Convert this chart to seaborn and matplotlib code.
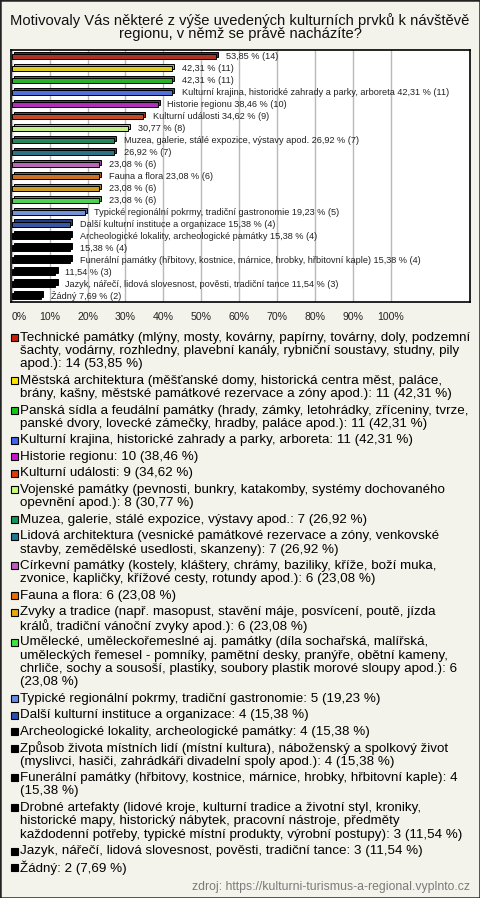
import numpy as np
import pandas as pd
import matplotlib.pyplot as plt
import seaborn as sns
from matplotlib.patches import Rectangle
from matplotlib.colors import to_rgb

# --- Data ---
names = [
    'Technické památky', 'Městská architektura', 'Panská sídla a feudální památky',
    'Kulturní krajina, historické zahrady a parky, arboreta', 'Historie regionu',
    'Kulturní události', 'Vojenské památky', 'Muzea, galerie, stálé expozice, výstavy apod.',
    'Lidová architektura', 'Církevní památky', 'Fauna a flora', 'Zvyky a tradice',
    'Umělecké, uměleckořemeslné aj. památky', 'Typické regionální pokrmy, tradiční gastronomie',
    'Další kulturní instituce a organizace', 'Archeologické lokality, archeologické památky',
    'Způsob života místních lidí',
    'Funerální památky (hřbitovy, kostnice, márnice, hrobky, hřbitovní kaple)',
    'Drobné artefakty', 'Jazyk, nářečí, lidová slovesnost, pověsti, tradiční tance', 'Žádný',
]
counts = [14, 11, 11, 11, 10, 9, 8, 7, 7, 6, 6, 6, 6, 5, 4, 4, 4, 4, 3, 3, 2]
percent = [53.85, 42.31, 42.31, 42.31, 38.46, 34.62, 30.77, 26.92, 26.92, 23.08, 23.08,
           23.08, 23.08, 19.23, 15.38, 15.38, 15.38, 15.38, 11.54, 11.54, 7.69]
# which bars show the category name next to the value
show_name = [False, False, False, True, True, True, False, True, False, False, True,
             False, False, True, True, True, False, True, False, True, True]
colors = ['#c81e0a', '#ffe600', '#14c814', '#3c64f0', '#c814d2', '#dc3c0a', '#c8ff78',
          '#14965a', '#1e7896', '#c35ac3', '#e66e0a', '#e6aa0a', '#3ce63c', '#648ce6',
          '#2850b4', '#000000', '#000000', '#000000', '#000000', '#000000', '#000000']
legend_labels = [
    'Technické památky (mlýny, mosty, kovárny, papírny, továrny, doly, podzemní\n'
    'šachty, vodárny, rozhledny, plavební kanály, rybniční soustavy, studny, pily\n'
    'apod.): 14 (53,85 %)',
    'Městská architektura (měšťanské domy, historická centra měst, paláce,\n'
    'brány, kašny, městské památkové rezervace a zóny apod.): 11 (42,31 %)',
    'Panská sídla a feudální památky (hrady, zámky, letohrádky, zříceniny, tvrze,\n'
    'panské dvory, lovecké zámečky, hradby, paláce apod.): 11 (42,31 %)',
    'Kulturní krajina, historické zahrady a parky, arboreta: 11 (42,31 %)',
    'Historie regionu: 10 (38,46 %)',
    'Kulturní události: 9 (34,62 %)',
    'Vojenské památky (pevnosti, bunkry, katakomby, systémy dochovaného\n'
    'opevnění apod.): 8 (30,77 %)',
    'Muzea, galerie, stálé expozice, výstavy apod.: 7 (26,92 %)',
    'Lidová architektura (vesnické památkové rezervace a zóny, venkovské\n'
    'stavby, zemědělské usedlosti, skanzeny): 7 (26,92 %)',
    'Církevní památky (kostely, kláštery, chrámy, baziliky, kříže, boží muka,\n'
    'zvonice, kapličky, křížové cesty, rotundy apod.): 6 (23,08 %)',
    'Fauna a flora: 6 (23,08 %)',
    'Zvyky a tradice (např. masopust, stavění máje, posvícení, poutě, jízda\n'
    'králů, tradiční vánoční zvyky apod.): 6 (23,08 %)',
    'Umělecké, uměleckořemeslné aj. památky (díla sochařská, malířská,\n'
    'uměleckých řemesel - pomníky, pamětní desky, pranýře, obětní kameny,\n'
    'chrliče, sochy a sousoší, plastiky, soubory plastik morové sloupy apod.): 6\n'
    '(23,08 %)',
    'Typické regionální pokrmy, tradiční gastronomie: 5 (19,23 %)',
    'Další kulturní instituce a organizace: 4 (15,38 %)',
    'Archeologické lokality, archeologické památky: 4 (15,38 %)',
    'Způsob života místních lidí (místní kultura), náboženský a spolkový život\n'
    '(myslivci, hasiči, zahrádkáři divadelní spoly apod.): 4 (15,38 %)',
    'Funerální památky (hřbitovy, kostnice, márnice, hrobky, hřbitovní kaple): 4\n'
    '(15,38 %)',
    'Drobné artefakty (lidové kroje, kulturní tradice a životní styl, kroniky,\n'
    'historické mapy, historický nábytek, pracovní nástroje, předměty\n'
    'každodenní potřeby, typické místní produkty, výrobní postupy): 3 (11,54 %)',
    'Jazyk, nářečí, lidová slovesnost, pověsti, tradiční tance: 3 (11,54 %)',
    'Žádný: 2 (7,69 %)',
]
title = 'Motivovaly Vás některé z výše uvedených kulturních prvků k návštěvě\nregionu, v němž se právě nacházíte?'
source = 'zdroj: https://kulturni-turismus-a-regional.vyplnto.cz'

sns.set_theme(style='white')
plt.rcParams['font.family'] = ['Liberation Sans', 'DejaVu Sans']

df = pd.DataFrame({'name': names, 'percent': percent, 'count': counts})
n = len(df)

W, H = 480, 898
bg = '#f4f3eb'
fig = plt.figure(figsize=(W / 100, H / 100), dpi=100, facecolor=bg)
ax = fig.add_axes([10.5 / W, 1 - 302 / H, 459.5 / W, 252 / H])
ax.set_facecolor('white')

# darker "top face" behind each bar for the 3D look
dark = [tuple(c * 0.75 for c in to_rgb(col)) for col in colors]
ax.barh(np.arange(n) - 0.17, df['percent'], left=0.55, height=0.45,
        color=dark, edgecolor='black', linewidth=0.7, zorder=2)
sns.barplot(data=df, x='percent', y='name', hue='name', palette=colors, orient='h',
            width=0.45, edgecolor='black', linewidth=0.7, legend=False, ax=ax, zorder=3)

for i, row in df.iterrows():
    pct = f"{row['percent']:.2f}".replace('.', ',')
    txt = f"{pct} % ({row['count']})"
    if show_name[i]:
        txt = f"{row['name']} {txt}"
    ax.text(row['percent'] + 2.6, i, txt, va='center', ha='left',
            fontsize=6.6, color='#222222', zorder=4)

ax.set_xlim(-0.3, 120.8)
ax.set_ylim(n - 0.5, -0.56)
ax.set_xticks(range(0, 101, 10))
ax.set_xticklabels([f'{t}%' for t in range(0, 101, 10)])
ax.get_xticklabels()[0].set_horizontalalignment('left')
ax.tick_params(axis='x', length=0, pad=7, labelsize=7.6, labelcolor='#222222')
ax.set_yticks([])
ax.set_xlabel('')
ax.set_ylabel('')
ax.set_axisbelow(True)
ax.xaxis.grid(True, color='#b9b9b9', linewidth=1)
for s in ax.spines.values():
    s.set_visible(True)
    s.set_color('black')
    s.set_linewidth(1.2)

fig.text(0.5, 1 - 27 / H, title, ha='center', va='center', fontsize=10.6,
         linespacing=0.98, color='#111111')

# legend drawn line by line so the marker sits on the first line
y = 337.5
line_h = 13.4
gap = 3.05
for lab, col in zip(legend_labels, colors):
    fig.patches.append(Rectangle((10.5 / W, 1 - (y + 3.5) / H), 7 / W, 7 / H,
                                 transform=fig.transFigure, facecolor=col,
                                 edgecolor='black', linewidth=0.8))
    lines = lab.split('\n')
    for k, ln in enumerate(lines):
        fig.text(20.5 / W, 1 - (y + k * line_h) / H, ln, ha='left', va='center',
                 fontsize=9.6, color='black')
    y += len(lines) * line_h + gap

fig.text(470 / W, 1 - 887 / H, source, ha='right', va='center', fontsize=8.8, color='#7a7a7a')

fig.patches.append(Rectangle((0, 0), 1, 1, transform=fig.transFigure, fill=False,
                             edgecolor='#222222', linewidth=1.8))

fig.savefig('out.png', dpi=100, facecolor=fig.get_facecolor())
